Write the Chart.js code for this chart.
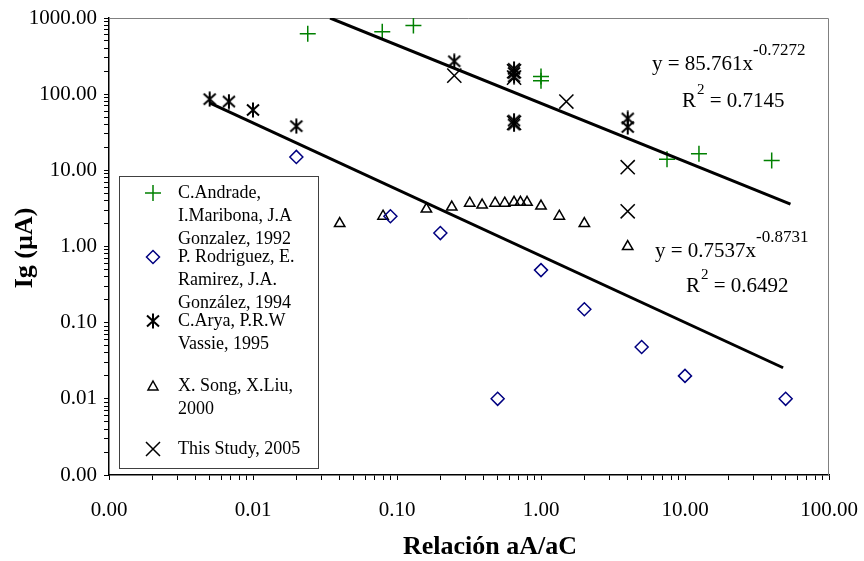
<!DOCTYPE html>
<html>
<head>
<meta charset="utf-8">
<script src="https://cdn.jsdelivr.net/npm/chart.js@4.4.1/dist/chart.umd.min.js"></script>
<style>
  html, body { margin: 0; padding: 0; background: #fff; }
  canvas { display: block; }
</style>
</head>
<body>
<canvas id="chart" width="864" height="561"></canvas>
<script>
// values
const andradeX = [0.024, 0.079, 0.13, 1.0, 1.0, 7.5, 12.5, 40];
const andradeY = [620, 660, 800, 170, 150, 14, 16.5, 13.5];

const rodriguezX = [0.02, 0.09, 0.2, 0.5, 1.0, 2.0, 5.0, 10, 50];
const rodriguezY = [15, 2.5, 1.5, 0.01, 0.49, 0.15, 0.048, 0.02, 0.01];

const aryaX = [0.005, 0.0068, 0.01, 0.02, 0.25, 0.65, 0.65, 0.65, 0.65, 0.65, 4, 4];
const aryaY = [86, 80, 62, 38, 270, 215, 190, 170, 45, 40, 48, 37];

const songX = [0.04, 0.08, 0.16, 0.24, 0.32, 0.39, 0.48, 0.56, 0.65, 0.72, 0.8, 1.0, 1.34, 2.0, 4.0];
const songY = [2.0, 2.5, 3.1, 3.3, 3.7, 3.5, 3.7, 3.7, 3.8, 3.8, 3.8, 3.4, 2.5, 2.0, 1.0];

const studyX = [0.25, 0.65, 0.65, 0.65, 1.5, 4, 4];
const studyY = [175, 200, 165, 42, 80, 11, 2.9];

// power trend lines (straight in log-log), end points
const fitUpperX = [0.0343, 54];
const fitUpperY = [1000, 3.6];
const fitLowerX = [0.005, 48];
const fitLowerY = [77, 0.0256];

const xDecades = [0.001, 0.01, 0.1, 1, 10, 100];
const yDecades = [0.001, 0.01, 0.1, 1, 10, 100, 1000];

const legendLines = [
    ['C.Andrade,', 'I.Maribona, J.A', 'Gonzalez, 1992'],
    ['P. Rodriguez, E.', 'Ramirez, J.A.', 'González, 1994'],
    ['C.Arya, P.R.W', 'Vassie, 1995'],
    ['X. Song, X.Liu,', '2000'],
    ['This Study, 2005']
];

const GREEN = '#008000';
const NAVY = '#000080';
const SERIF = '"Liberation Serif", "Times New Roman", serif';

function pts(xs, ys) {
    return xs.map((x, i) => ({ x: x, y: ys[i] }));
}

function makeTicks(decades) {
    const out = [];
    decades.forEach((d, i) => {
        out.push({ value: d, major: true });
        if (i < decades.length - 1) {
            for (let k = 2; k <= 9; k++) out.push({ value: d * k, major: false });
        }
    });
    return out;
}

function isDecade(v) {
    const l = Math.log10(v);
    return Math.abs(l - Math.round(l)) < 1e-6;
}

// asterisk marker (X with a vertical bar)
const asterisk = document.createElement('canvas');
asterisk.width = 16;
asterisk.height = 16;
(function () {
    const c = asterisk.getContext('2d');
    c.strokeStyle = '#000';
    c.lineWidth = 2;
    c.beginPath();
    c.moveTo(2, 2.5); c.lineTo(14, 13.5);
    c.moveTo(14, 2.5); c.lineTo(2, 13.5);
    c.moveTo(8, 0.5); c.lineTo(8, 15.5);
    c.stroke();
})();

function drawMarker(ctx, kind, x, y) {
    ctx.save();
    ctx.lineWidth = 1.5;
    ctx.beginPath();
    if (kind === 'plus') {
        ctx.strokeStyle = GREEN;
        ctx.moveTo(x - 8, y); ctx.lineTo(x + 8, y);
        ctx.moveTo(x, y - 8); ctx.lineTo(x, y + 8);
        ctx.stroke();
    } else if (kind === 'diamond') {
        ctx.strokeStyle = NAVY;
        ctx.moveTo(x, y - 6.5); ctx.lineTo(x + 6.5, y);
        ctx.lineTo(x, y + 6.5); ctx.lineTo(x - 6.5, y);
        ctx.closePath();
        ctx.stroke();
    } else if (kind === 'asterisk') {
        ctx.drawImage(asterisk, Math.round(x - 8), Math.round(y - 8));
    } else if (kind === 'triangle') {
        ctx.strokeStyle = '#000';
        ctx.moveTo(x, y - 5); ctx.lineTo(x + 5, y + 4);
        ctx.lineTo(x - 5, y + 4);
        ctx.closePath();
        ctx.stroke();
    } else {
        ctx.strokeStyle = '#000';
        ctx.moveTo(x - 7, y - 7); ctx.lineTo(x + 7, y + 7);
        ctx.moveTo(x + 7, y - 7); ctx.lineTo(x - 7, y + 7);
        ctx.stroke();
    }
    ctx.restore();
}

function drawEquation(ctx, x, y, base, exp) {
    ctx.font = '21px ' + SERIF;
    ctx.fillText(base, x, y);
    const w = ctx.measureText(base).width;
    ctx.font = '17px ' + SERIF;
    ctx.fillText(exp, x + w, y - 13);
}

function drawR2(ctx, x, y, value) {
    ctx.font = '21px ' + SERIF;
    ctx.fillText('R', x, y);
    const w = ctx.measureText('R').width;
    ctx.font = '15px ' + SERIF;
    ctx.fillText('2', x + w + 1, y - 11);
    const w2 = ctx.measureText('2').width;
    ctx.font = '21px ' + SERIF;
    ctx.fillText(' = ' + value, x + w + w2 + 1, y);
}

const decorPlugin = {
    id: 'decor',
    beforeDatasetsDraw(chart) {
        const a = chart.chartArea;
        const ctx = chart.ctx;
        ctx.save();
        ctx.strokeStyle = '#808080';
        ctx.lineWidth = 1;
        ctx.beginPath();
        ctx.moveTo(a.left, a.top + 0.5);
        ctx.lineTo(a.right - 0.5, a.top + 0.5);
        ctx.lineTo(a.right - 0.5, a.bottom);
        ctx.stroke();
        ctx.restore();
    },
    afterDraw(chart) {
        const ctx = chart.ctx;
        ctx.save();

        // legend box
        ctx.fillStyle = '#fff';
        ctx.fillRect(119, 176, 199, 292);
        ctx.strokeStyle = '#404040';
        ctx.lineWidth = 1;
        ctx.strokeRect(119.5, 176.5, 199, 292);

        const kinds = ['plus', 'diamond', 'asterisk', 'triangle', 'cross'];
        const rowY = [193, 257, 321, 386, 449];
        ctx.textBaseline = 'middle';
        ctx.textAlign = 'left';
        legendLines.forEach((lines, i) => {
            drawMarker(ctx, kinds[i], 153, rowY[i]);
            ctx.font = '18px ' + SERIF;
            ctx.fillStyle = '#000';
            lines.forEach((t, j) => ctx.fillText(t, 178, rowY[i] + j * 23));
        });

        // trend line equations
        ctx.fillStyle = '#000';
        drawEquation(ctx, 652, 64, 'y = 85.761x', '-0.7272');
        drawR2(ctx, 682, 101, '0.7145');
        drawEquation(ctx, 655, 251, 'y = 0.7537x', '-0.8731');
        drawR2(ctx, 686, 286, '0.6492');

        // axis titles
        ctx.font = 'bold 26px ' + SERIF;
        ctx.textAlign = 'center';
        ctx.fillText('Relación aA/aC', 490, 547);
        ctx.translate(25, 248);
        ctx.rotate(-Math.PI / 2);
        ctx.fillText('Ig (µA)', 0, 0);
        ctx.restore();
    }
};

const tickFont = { family: SERIF, size: 21 };

new Chart(document.getElementById('chart').getContext('2d'), {
    type: 'scatter',
    data: {
        datasets: [
            {
                label: 'fit upper',
                data: pts(fitUpperX, fitUpperY),
                showLine: true,
                borderColor: '#000',
                borderWidth: 3,
                pointRadius: 0
            },
            {
                label: 'fit lower',
                data: pts(fitLowerX, fitLowerY),
                showLine: true,
                borderColor: '#000',
                borderWidth: 3,
                pointRadius: 0
            },
            {
                label: 'C.Andrade, I.Maribona, J.A Gonzalez, 1992',
                data: pts(andradeX, andradeY),
                pointStyle: 'cross',
                pointRadius: 8,
                borderColor: GREEN,
                borderWidth: 1.5
            },
            {
                label: 'P. Rodriguez, E. Ramirez, J.A. González, 1994',
                data: pts(rodriguezX, rodriguezY),
                pointStyle: 'rectRot',
                pointRadius: 6.5,
                borderColor: NAVY,
                backgroundColor: 'rgba(0,0,0,0)',
                borderWidth: 1.5
            },
            {
                label: 'C.Arya, P.R.W Vassie, 1995',
                data: pts(aryaX, aryaY),
                pointStyle: asterisk,
                pointRadius: 8
            },
            {
                label: 'X. Song, X.Liu, 2000',
                data: pts(songX, songY),
                pointStyle: 'triangle',
                pointRadius: 6,
                borderColor: '#000',
                backgroundColor: 'rgba(0,0,0,0)',
                borderWidth: 1.5
            },
            {
                label: 'This Study, 2005',
                data: pts(studyX, studyY),
                pointStyle: 'crossRot',
                pointRadius: 10,
                borderColor: '#000',
                borderWidth: 1.5
            }
        ]
    },
    options: {
        responsive: false,
        animation: false,
        layout: { padding: { top: 18, right: 35, bottom: 0, left: 0 } },
        plugins: {
            legend: { display: false },
            tooltip: { enabled: false }
        },
        scales: {
            x: {
                type: 'logarithmic',
                min: 0.001,
                max: 100,
                afterBuildTicks: s => { s.ticks = makeTicks(xDecades); },
                afterFit: s => { s.height = 86; s.paddingRight = 0; s.paddingLeft = 0; },
                grid: { drawOnChartArea: false, drawTicks: true, tickLength: 5, color: '#000', tickColor: '#000' },
                border: { display: true, color: '#000', width: 1.5 },
                ticks: {
                    autoSkip: false,
                    maxRotation: 0,
                    padding: 18,
                    color: '#000',
                    font: tickFont,
                    callback: v => isDecade(v) ? v.toFixed(2) : ''
                }
            },
            y: {
                type: 'logarithmic',
                min: 0.001,
                max: 1000,
                afterBuildTicks: s => { s.ticks = makeTicks(yDecades); },
                afterFit: s => { s.width = 109; s.paddingTop = 0; s.paddingBottom = 0; },
                grid: { drawOnChartArea: false, drawTicks: true, tickLength: 5, color: '#000', tickColor: '#000' },
                border: { display: true, color: '#000', width: 1.5 },
                ticks: {
                    autoSkip: false,
                    padding: 7,
                    color: '#000',
                    font: tickFont,
                    callback: v => isDecade(v) ? v.toFixed(2) : ''
                }
            }
        }
    },
    plugins: [decorPlugin]
});
</script>
</body>
</html>
